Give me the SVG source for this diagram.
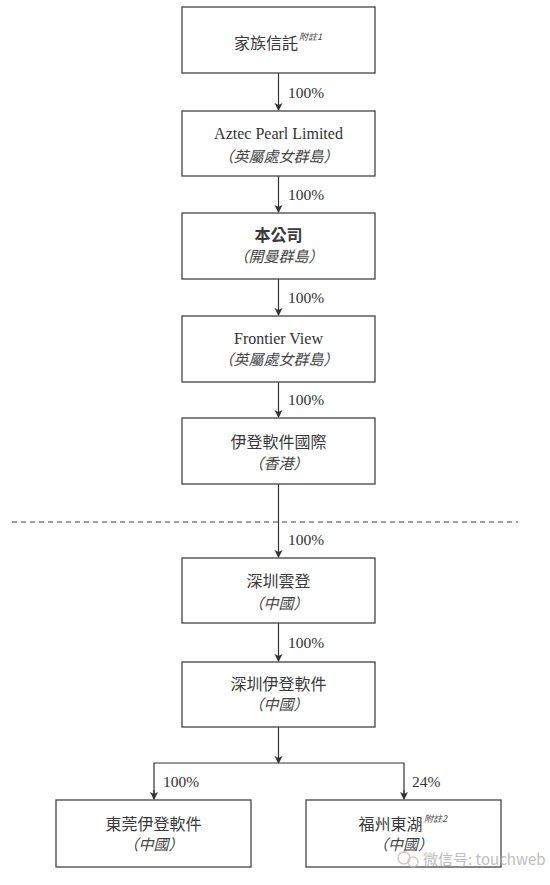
<svg xmlns="http://www.w3.org/2000/svg" width="550" height="885" viewBox="0 0 550 885">
<style>
.box{fill:#fff;stroke:#444;stroke-width:1.3}
.ln{fill:none;stroke:#333;stroke-width:1.2}
.t{font-family:"Liberation Serif","Noto Sans CJK TC",serif;font-size:16px;fill:#333;text-anchor:middle}
.c{font-family:"Noto Sans CJK TC","Liberation Serif",sans-serif;font-size:16px;fill:#3a3a3a;text-anchor:middle}
.i{font-family:"Noto Sans CJK TC",sans-serif;font-size:15px;fill:#444;font-style:italic;text-anchor:middle}
.p{font-family:"Liberation Serif",serif;font-size:15.5px;fill:#333}
.s{font-family:"Noto Sans CJK TC",sans-serif;font-size:9px;font-style:italic;fill:#444}
</style>
<defs>
<marker id="ah" markerWidth="8" markerHeight="10" refX="7" refY="4" orient="auto" markerUnits="userSpaceOnUse">
<path d="M0,0 L8,4 L0,8 L2,4 Z" fill="#333"/>
</marker>
</defs>
<rect width="550" height="885" fill="#fff"/>
<g id="connectors">
<line class="ln" x1="278.5" y1="73" x2="278.5" y2="110" marker-end="url(#ah)"/>
<line class="ln" x1="278.5" y1="176" x2="278.5" y2="212" marker-end="url(#ah)"/>
<line class="ln" x1="278.5" y1="279" x2="278.5" y2="315" marker-end="url(#ah)"/>
<line class="ln" x1="278.5" y1="382" x2="278.5" y2="417" marker-end="url(#ah)"/>
<line class="ln" x1="278.5" y1="484" x2="278.5" y2="557" marker-end="url(#ah)"/>
<line class="ln" x1="278.5" y1="623" x2="278.5" y2="661" marker-end="url(#ah)"/>
<line class="ln" x1="278.5" y1="727" x2="278.5" y2="763" marker-end="url(#ah)"/>
<polyline class="ln" points="154,799 154,763 404,763 404,799"/>
<line class="ln" x1="154" y1="790" x2="154" y2="799" marker-end="url(#ah)"/>
<line class="ln" x1="404" y1="790" x2="404" y2="799" marker-end="url(#ah)"/>
<line x1="12" y1="522" x2="518" y2="522" stroke="#444" stroke-width="1" stroke-dasharray="5,4"/>
<text class="p" x="288" y="98">100%</text>
<text class="p" x="288" y="200">100%</text>
<text class="p" x="288" y="303">100%</text>
<text class="p" x="288" y="405">100%</text>
<text class="p" x="288" y="545">100%</text>
<text class="p" x="288" y="648">100%</text>
<text class="p" x="163" y="787">100%</text>
<text class="p" x="412" y="787">24%</text>
</g>
<g id="n1">
<rect class="box" x="182" y="7" width="193" height="66"/>
<text class="c" x="266" y="49">家族信託</text>
<text class="s" x="299" y="40">附註1</text>
</g>
<g id="n2">
<rect class="box" x="182" y="111" width="193" height="65"/>
<text class="t" x="278.5" y="139">Aztec Pearl Limited</text>
<text class="i" x="278.5" y="162">（英屬處女群島）</text>
</g>
<g id="n3">
<rect class="box" x="182" y="213" width="193" height="66"/>
<text class="c" x="278.5" y="241" font-weight="600">本公司</text>
<text class="i" x="278.5" y="262">（開曼群島）</text>
</g>
<g id="n4">
<rect class="box" x="182" y="316" width="193" height="66"/>
<text class="t" x="278.5" y="344">Frontier View</text>
<text class="i" x="278.5" y="365">（英屬處女群島）</text>
</g>
<g id="n5">
<rect class="box" x="182" y="418" width="193" height="66"/>
<text class="c" x="278.5" y="448">伊登軟件國際</text>
<text class="i" x="278.5" y="469">（香港）</text>
</g>
<g id="n6">
<rect class="box" x="182" y="558" width="193" height="65"/>
<text class="c" x="278.5" y="587">深圳雲登</text>
<text class="i" x="278.5" y="609">（中國）</text>
</g>
<g id="n7">
<rect class="box" x="182" y="662" width="193" height="65"/>
<text class="c" x="278.5" y="690">深圳伊登軟件</text>
<text class="i" x="278.5" y="710">（中國）</text>
</g>
<g id="n8">
<rect class="box" x="56" y="800" width="195" height="67"/>
<text class="c" x="153.5" y="830">東莞伊登軟件</text>
<text class="i" x="153.5" y="850">（中國）</text>
</g>
<g id="n9">
<rect class="box" x="306" y="800" width="195" height="67"/>
<text class="c" x="390.5" y="830">福州東湖</text>
<text class="s" x="424" y="822">附註2</text>
<text class="i" x="403" y="850">（中國）</text>
</g>
<g id="watermark" opacity="0.75">
<circle cx="404" cy="858" r="6" fill="none" stroke="#bbb" stroke-width="1.5"/>
<circle cx="413" cy="862" r="5" fill="none" stroke="#bbb" stroke-width="1.5"/>
<text x="423" y="865" font-family="Noto Sans CJK SC,sans-serif" font-size="15" fill="#aaa">微信号: touchweb</text>
</g>
</svg>
